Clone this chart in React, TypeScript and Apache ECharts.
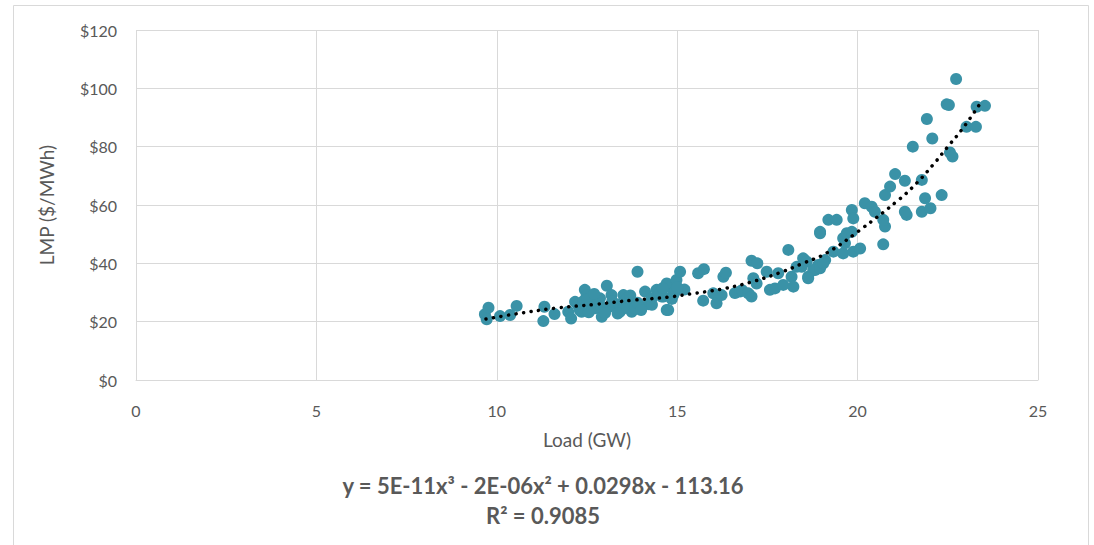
import React, { useEffect, useRef } from "react";
import * as echarts from "echarts";

const loadGW: number[] = [
  9.67, 9.77, 9.72, 10.09, 10.37, 10.55, 11.29, 11.32, 11.6, 11.98, 12.06, 12.17, 12.25, 12.35, 12.44, 12.49, 12.58,
  12.72, 12.91, 12.86, 13.05, 13.18, 13.28, 13.41, 13.51, 13.64, 13.74, 13.83, 13.9, 14.11, 14.29, 14.43, 14.57,
  14.71, 14.75, 14.89, 14.71, 14.62, 14.75, 14.98, 15.08, 14.94, 15.58, 15.74, 15.72, 16.0, 16.09, 16.23, 16.28,
  16.35, 16.6, 16.74, 16.8, 16.97, 17.06, 17.06, 17.22, 17.11, 17.2, 17.48, 17.57, 17.71, 17.8, 17.94, 18.08, 18.17,
  18.22, 18.31, 18.49, 18.63, 18.77, 18.91, 18.96, 19.1, 18.59, 18.82, 18.45, 18.63, 18.96, 19.05, 19.33, 19.6,
  19.65, 19.6, 19.88, 20.07, 19.7, 19.84, 18.96, 19.19, 19.42, 19.84, 19.88, 20.2, 20.39, 20.48, 20.71, 20.76,
  20.71, 20.76, 20.9, 21.04, 21.31, 21.36, 21.31, 21.53, 21.78, 21.87, 21.78, 21.92, 22.02, 22.07, 22.33, 22.47,
  22.53, 22.56, 22.63, 22.73, 23.02, 23.28, 23.3, 23.53, 12.6, 13.1, 13.6, 12.4, 14.2, 15.2,
  12.3, 12.5, 12.7, 12.9, 13.0, 13.2, 13.4, 13.5, 13.7, 13.9, 14.0, 14.3, 14.5, 14.6, 15.0, 12.55, 13.35, 14.85
];
const lmpUSD: number[] = [
  22.5, 24.8, 20.8, 21.9, 22.3, 25.4, 20.2, 25.1, 22.6, 23.4, 21.1, 26.8, 25.7, 23.4, 30.9, 29.1, 26.3,
  24.6, 21.7, 28.0, 32.3, 29.1, 25.7, 23.4, 29.1, 26.8, 23.4, 24.6, 37.1, 30.3, 28.0, 30.9, 28.6,
  24.0, 32.0, 29.1, 33.1, 28.6, 24.0, 34.3, 37.1, 30.3, 36.6, 38.0, 27.2, 29.7, 26.3, 29.1, 35.4,
  36.8, 29.8, 30.3, 30.8, 29.7, 28.6, 40.9, 40.0, 34.9, 33.1, 37.1, 30.9, 31.4, 36.6, 32.6, 44.6, 35.4,
  32.0, 38.8, 41.7, 35.4, 37.7, 39.4, 50.3, 41.1, 40.6, 37.7, 38.8, 34.9, 38.3, 40.0, 44.0, 43.4,
  46.9, 48.6, 44.0, 45.1, 50.3, 50.8, 50.8, 54.9, 54.9, 58.3, 55.4, 60.6, 59.4, 57.7, 46.5, 52.6,
  54.9, 63.4, 66.3, 70.6, 68.3, 56.6, 57.7, 80.0, 68.6, 62.3, 57.7, 89.5, 58.9, 82.8, 63.4, 94.5,
  94.3, 78.0, 76.6, 103.2, 86.8, 86.8, 93.7, 94.0, 27.5, 25.0, 27.8, 27.0, 26.0, 31.0,
  24.0, 27.5, 29.5, 25.0, 23.0, 27.0, 26.0, 24.5, 29.0, 26.5, 24.0, 25.8, 29.5, 31.5, 31.8, 23.2, 22.8, 27.8
];

const trendX: number[] = [9.7, 10.5, 11.6, 12.7, 13.8, 14.75, 15.35, 16.2, 17.0, 17.85, 18.45, 19.15, 20.0, 21.17, 21.66, 22.1, 22.5, 22.93, 23.44];
const trendY: number[] = [20.9, 22.6, 24.6, 25.9, 27.4, 28.4, 29.5, 31.1, 33.4, 36.8, 39.8, 43.6, 50.8, 62.1, 67.8, 73.9, 80.0, 86.5, 95.6];

const xTicks: number[] = [0, 5, 10, 15, 20, 25];
const yTicks: number[] = [0, 20, 40, 60, 80, 100, 120];

const equationText = "y = 5E-11x³ - 2E-06x² + 0.0298x - 113.16";
const r2Text = "R² = 0.9085";

const FONT = "Lato, 'Open Sans', sans-serif";
const GREY = "#595959";

export default function App() {
  const ref = useRef<HTMLDivElement>(null);
  useEffect(() => {
    document.body.style.margin = "0";
    if (!ref.current) return;
    const chart = echarts.init(ref.current, undefined, { renderer: "svg" });
    const scatter = loadGW.map((x, i) => [x, lmpUSD[i]]);
    const trend = trendX.map((x, i) => [x, trendY[i]]);
    chart.setOption({
      animation: false,
      backgroundColor: "#ffffff",
      grid: { left: 136, right: 56, top: 30, bottom: 165 },
      xAxis: {
        type: "value",
        min: xTicks[0],
        max: xTicks[xTicks.length - 1],
        interval: 5,
        name: "Load (GW)",
        nameLocation: "middle",
        nameGap: 50,
        nameTextStyle: { color: GREY, fontSize: 19, fontFamily: FONT },
        axisLine: { show: true, lineStyle: { color: "#d9d9d9" } },
        axisTick: { show: false },
        axisLabel: { color: GREY, fontSize: 16, fontFamily: FONT, margin: 22 },
        splitLine: { show: true, lineStyle: { color: "#d9d9d9", width: 1 } },
      },
      yAxis: {
        type: "value",
        min: yTicks[0],
        max: yTicks[yTicks.length - 1],
        interval: 20,
        name: "LMP ($/MWh)",
        nameLocation: "middle",
        nameGap: 80,
        nameTextStyle: { color: GREY, fontSize: 19, fontFamily: FONT },
        axisLine: { show: false },
        axisTick: { show: false },
        axisLabel: { color: GREY, fontSize: 16, fontFamily: FONT, margin: 19, formatter: (v: number) => "$" + v },
        splitLine: { show: true, lineStyle: { color: "#d9d9d9", width: 1 } },
      },
      series: [
        {
          type: "scatter",
          data: scatter,
          symbol: "circle",
          symbolSize: 12,
          itemStyle: { color: "#3A92A7", opacity: 1 },
          z: 2,
        },
        {
          type: "line",
          data: trend,
          smooth: 0.4,
          showSymbol: false,
          symbol: "none",
          lineStyle: { color: "#000000", width: 3.5, type: [0.1, 7.5], cap: "round" },
          z: 3,
        },
      ],
      graphic: [
        {
          type: "rect",
          shape: { x: 13.5, y: 5.5, width: 1075, height: 560 },
          style: { fill: "none", stroke: "#d9d9d9", lineWidth: 1 },
          silent: true,
        },
        {
          type: "text",
          x: 543,
          y: 485,
          style: {
            text: equationText,
            fill: GREY,
            font: `bold 22px ${FONT}`,
            align: "center",
            verticalAlign: "middle",
          },
        },
        {
          type: "text",
          x: 543,
          y: 515,
          style: {
            text: r2Text,
            fill: GREY,
            font: `bold 22px ${FONT}`,
            align: "center",
            verticalAlign: "middle",
          },
        },
      ],
    });
    return () => chart.dispose();
  }, []);
  return <div ref={ref} style={{ width: 1094, height: 545 }} />;
}
